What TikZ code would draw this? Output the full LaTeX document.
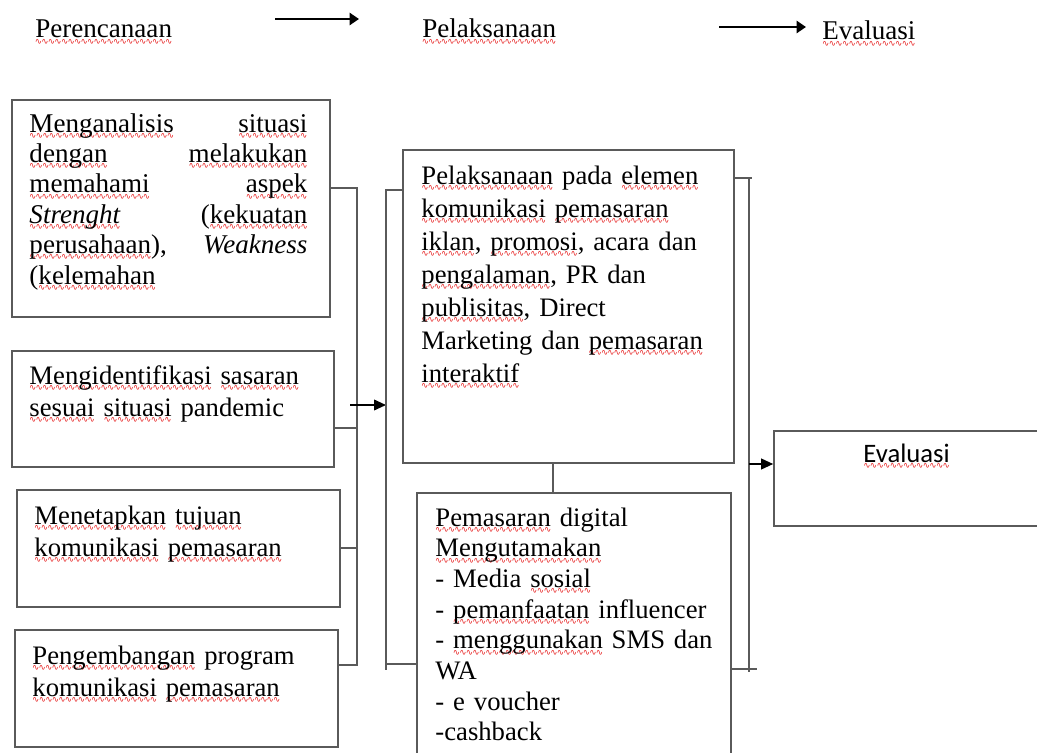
\documentclass[tikz,border=0pt]{standalone}
\usepackage{fontspec}
\setmainfont{Liberation Serif}
\newfontfamily\calibfont{Carlito}
\newfontfamily\wavefont{DejaVu Sans}
\usepackage{tikz}
\usetikzlibrary{arrows.meta, fit}
\definecolor{linegray}{RGB}{90,90,90}
\definecolor{wavered}{RGB}{230,30,30}
\newcommand\wavy[1]{\leavevmode\setbox0\hbox{#1}\rlap{\raisebox{-4.6pt}{\textcolor{wavered}{\fontsize{6.5}{6.5}\wavefont\xleaders\hbox{\kern-0.35pt∿\kern-0.35pt}\hskip\wd0}}}\box0\relax}

\begin{document}
\begin{tikzpicture}[x=0.75pt,y=-0.75pt,
        box/.style={draw=linegray, line width=1.2pt, inner sep=0pt},
        txt/.style={anchor=base west, inner sep=0pt, align=left, text width=225pt, font=\fontsize{20}{24.75}\selectfont},
        wire/.style={draw=linegray, line width=1.1pt},
        arr/.style={draw=black, line width=1.3pt, -{Triangle[length=9pt,width=8pt]}},
        bigarr/.style={draw=black, line width=2.2pt, -{Triangle[length=7pt,width=9pt]}}]
    \useasboundingbox (0,0) rectangle (1037,752);

    \node[txt, text width=120pt, font=\fontsize{20.3}{24}\selectfont] (perLbl) at (35,38) {\wavy{Perencanaan}};
    \node[txt, text width=120pt, font=\fontsize{20.3}{24}\selectfont] (pelLbl) at (422,38) {\wavy{Pelaksanaan}};
    \node[txt, text width=120pt, font=\fontsize{20.3}{24}\selectfont] (evaLbl) at (822,40) {\wavy{Evaluasi}};
    \coordinate (a1s) at (275,19);
    \coordinate (a1e) at (359,19);
    \coordinate (a2s) at (719,27);
    \coordinate (a2e) at (806,27);
    \draw[bigarr] (a1s) -- (a1e);
    \draw[bigarr] (a2s) -- (a2e);

    \node[box, fit={(12,100) (330,317)}] (anaBox) {};
    \node[box, fit={(12,351) (334,467)}] (idBox) {};
    \node[box, fit={(17,490) (340,607)}] (aimBox) {};
    \node[box, fit={(15,630) (338,747)}] (devBox) {};
    \node[box, fit={(403,150) (734,463)}] (pelBox) {};
    \node[box, fit={(417,493) (731,770)}] (digBox) {};
    \node[box, fit={(774,431) (1045,526)}] (evBox) {};

    \node[txt, text width=208.5pt, font=\fontsize{20.3}{22.8}\selectfont] (anaTxt) at ([shift={(18,33)}]anaBox.north west)
        {\wavy{Menganalisis}\hfill\wavy{situasi}\\
         \wavy{dengan}\hfill\wavy{melakukan}\\
         \wavy{memahami}\hfill\wavy{aspek}\\
         \textit{\wavy{Strenght}}\hfill(\wavy{kekuatan}\\
         \wavy{perusahaan}),\hfill\textit{Weakness}\\
         (\wavy{kelemahan}};
    \node[txt, font=\fontsize{20}{24}\selectfont] (idTxt) at ([shift={(18,34)}]idBox.north west)
        {\wavy{Mengidentifikasi} \wavy{sasaran}\\ \wavy{sesuai} \wavy{situasi} pandemic};
    \node[txt, font=\fontsize{20}{24}\selectfont] (aimTxt) at ([shift={(18,35)}]aimBox.north west)
        {\wavy{Menetapkan} \wavy{tujuan}\\ \wavy{komunikasi} \wavy{pemasaran}};
    \node[txt, font=\fontsize{20}{24}\selectfont] (devTxt) at ([shift={(18,35)}]devBox.north west)
        {\wavy{Pengembangan} program\\ \wavy{komunikasi} \wavy{pemasaran}};
    \node[txt, text width=230pt] (pelTxt) at ([shift={(19,35)}]pelBox.north west)
        {\wavy{Pelaksanaan} pada \wavy{elemen}\\
         \wavy{komunikasi} \wavy{pemasaran}\\
         \wavy{iklan}, \wavy{promosi}, acara dan\\
         \wavy{pengalaman}, PR dan\\
         \wavy{publisitas}, Direct\\
         Marketing dan \wavy{pemasaran}\\
         \wavy{interaktif}};
    \node[txt, text width=225pt, font=\fontsize{20}{23}\selectfont] (digTxt) at ([shift={(19,34)}]digBox.north west)
        {\wavy{Pemasaran} digital\\
         \wavy{Mengutamakan}\\
         - Media \wavy{sosial}\\
         - \wavy{pemanfaatan} influencer\\
         - \wavy{menggunakan} SMS dan\\
         WA\\
         - e voucher\\
         -cashback};
    \node[txt, text width=150pt, font=\calibfont\fontsize{20}{24}\selectfont] (evTxt) at ([shift={(90,32)}]evBox.north west) {\wavy{Evaluasi}};

    \coordinate (b1t) at (357,188);
    \coordinate (b1m) at (357,428);
    \coordinate (b1n) at (357,548);
    \coordinate (b1b) at (357,665);
    \draw[wire] (anaBox.east |- b1t) -- (b1t) -- (b1b) -- (devBox.east |- b1b);
    \draw[wire] (idBox.east |- b1m) -- (b1m);
    \draw[wire] (aimBox.east |- b1n) -- (b1n);

    \coordinate (arrL) at (350,405);
    \coordinate (b2t) at (386,190);
    \coordinate (b2s) at (386,664);
    \coordinate (b2b) at (386,670);
    \draw[arr] (arrL) -- (b2t |- arrL);
    \draw[wire] (pelBox.west |- b2t) -- (b2t) -- (b2b);
    \draw[wire] (b2s) -- (digBox.west |- b2s);

    \coordinate (ef) at (553,463);
    \draw[wire] (ef) -- (ef |- digBox.north);

    \coordinate (b3t) at (749,178);
    \coordinate (b3a) at (749,464);
    \coordinate (b3s) at (749,669);
    \coordinate (b3b) at (749,672);
    \draw[wire] (pelBox.east |- b3t) -- ([xshift=2pt]b3t);
    \draw[wire] (b3t) -- (b3b);
    \draw[wire] (digBox.east |- b3s) -- ([xshift=6pt]b3s);
    \draw[arr] (b3a) -- (evBox.west |- b3a);
\end{tikzpicture}
\end{document}
